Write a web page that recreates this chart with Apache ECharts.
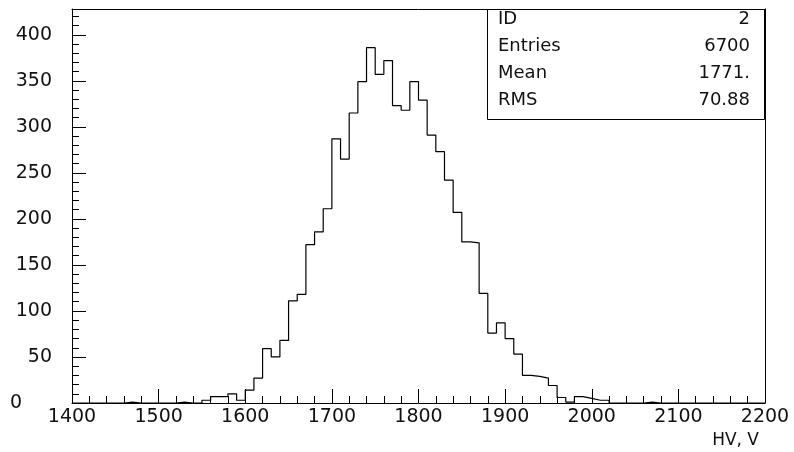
<!DOCTYPE html>
<html>
<head>
<meta charset="utf-8">
<script src="https://cdn.jsdelivr.net/npm/echarts@6/dist/echarts.min.js"></script>
<style>
html,body{margin:0;padding:0;background:#fff;}
#c{width:794px;height:452px;}
</style>
</head>
<body>
<div id="c"></div>
<script>
// Histogram of HV values, 10 V bins from 1400 to 2200
const binStart = 1400;
const binWidth = 10;
const counts = [
  0, 0, 0, 0, 0, 0, 1, 0, 0, 0,          // 1400-1490
  0, 0, 1, 0, 0, 3, 7, 7, 10, 3,         // 1500-1590
  14, 27, 59, 50, 68, 111, 118, 172, 186, 211,   // 1600-1690
  287, 265, 315, 349, 386, 357, 372, 323, 318, 349, // 1700-1790
  329, 291, 273, 242, 207, 175, 174, 119, 76, 87,   // 1800-1890
  70, 53, 30, 29, 27, 19, 6, 1, 7, 5,    // 1900-1990
  3, 3, 0, 0, 0, 0, 1, 0, 0, 0,          // 2000-2090
  0, 0, 0, 0, 0, 0, 0, 0, 0, 0           // 2100-2190
];
const xMin = 1400, xMax = 2200, xInterval = 100;
const yMin = 0, yMax = 428, yInterval = 50;
const statLabels = ['ID', 'Entries', 'Mean', 'RMS'];
const statValues = ['2', '6700', '1771.', '70.88'];
const axisTitle = 'HV, V';

const points = counts.map((c, i) => [binStart + i * binWidth, c]);
points.push([binStart + counts.length * binWidth, 0]);

const FONT = 'DejaVu Sans';
const TXT = '#111';
const FS = 19;

const chart = echarts.init(document.getElementById('c'), null, {renderer: 'canvas'});

const rowY = [19, 46, 73, 100.5];
const statGraphics = [{
  type: 'rect', z: 10,
  shape: {x: 487.5, y: 9.5, width: 277, height: 110},
  style: {fill: '#fff', stroke: '#000', lineWidth: 1}
}];
statLabels.forEach((t, i) => {
  statGraphics.push({type: 'text', z: 11, x: 498, y: rowY[i],
    style: {text: t, font: '18px "' + FONT + '"', fill: TXT, textAlign: 'left', textVerticalAlign: 'middle'}});
  statGraphics.push({type: 'text', z: 11, x: 750, y: rowY[i],
    style: {text: statValues[i], font: '18px "' + FONT + '"', fill: TXT, textAlign: 'right', textVerticalAlign: 'middle'}});
});
statGraphics.push({type: 'text', z: 11, x: 759, y: 441,
  style: {text: axisTitle, font: '17px "' + FONT + '"', fill: TXT, textAlign: 'right', textVerticalAlign: 'middle'}});

chart.setOption({
  animation: false,
  backgroundColor: '#fff',
  grid: {left: 72, right: 29, top: 9, bottom: 49, containLabel: false},
  xAxis: [{
    type: 'value', min: xMin, max: xMax, interval: xInterval,
    axisLine: {show: true, onZero: false, lineStyle: {color: '#000', width: 1}},
    axisTick: {show: true, inside: true, length: 14, lineStyle: {color: '#000'}},
    minorTick: {show: true, splitNumber: 5, length: 7, lineStyle: {color: '#000'}},
    splitLine: {show: false},
    axisLabel: {margin: 5, color: TXT, fontFamily: FONT, fontSize: FS, formatter: v => String(v)}
  }, {
    type: 'value', position: 'top', min: xMin, max: xMax,
    axisLine: {show: true, onZero: false, lineStyle: {color: '#000', width: 1}},
    axisTick: {show: false}, axisLabel: {show: false}, splitLine: {show: false}
  }],
  yAxis: [{
    type: 'value', min: yMin, max: yMax, interval: yInterval,
    axisLine: {show: true, onZero: false, lineStyle: {color: '#000', width: 1}},
    axisTick: {show: true, inside: true, length: 14, lineStyle: {color: '#000'}},
    minorTick: {show: true, splitNumber: 5, length: 7, lineStyle: {color: '#000'}},
    splitLine: {show: false},
    axisLabel: {
      margin: 20, color: TXT, fontFamily: FONT, fontSize: FS, showMaxLabel: false,
      formatter: v => (v % yInterval !== 0 ? '' : (v === 0 ? '{z|0}' : String(v))),
      rich: {z: {color: TXT, fontFamily: FONT, fontSize: FS, padding: [0, 30, 0, 0]}}
    }
  }, {
    type: 'value', position: 'right', min: yMin, max: yMax,
    axisLine: {show: true, onZero: false, lineStyle: {color: '#000', width: 1}},
    axisTick: {show: false}, axisLabel: {show: false}, splitLine: {show: false}
  }],
  series: [{
    type: 'line', step: 'end', xAxisIndex: 0, yAxisIndex: 0,
    data: points, symbol: 'none',
    lineStyle: {color: '#000', width: 1.2},
    clip: true
  }],
  graphic: statGraphics
});
</script>
</body>
</html>
